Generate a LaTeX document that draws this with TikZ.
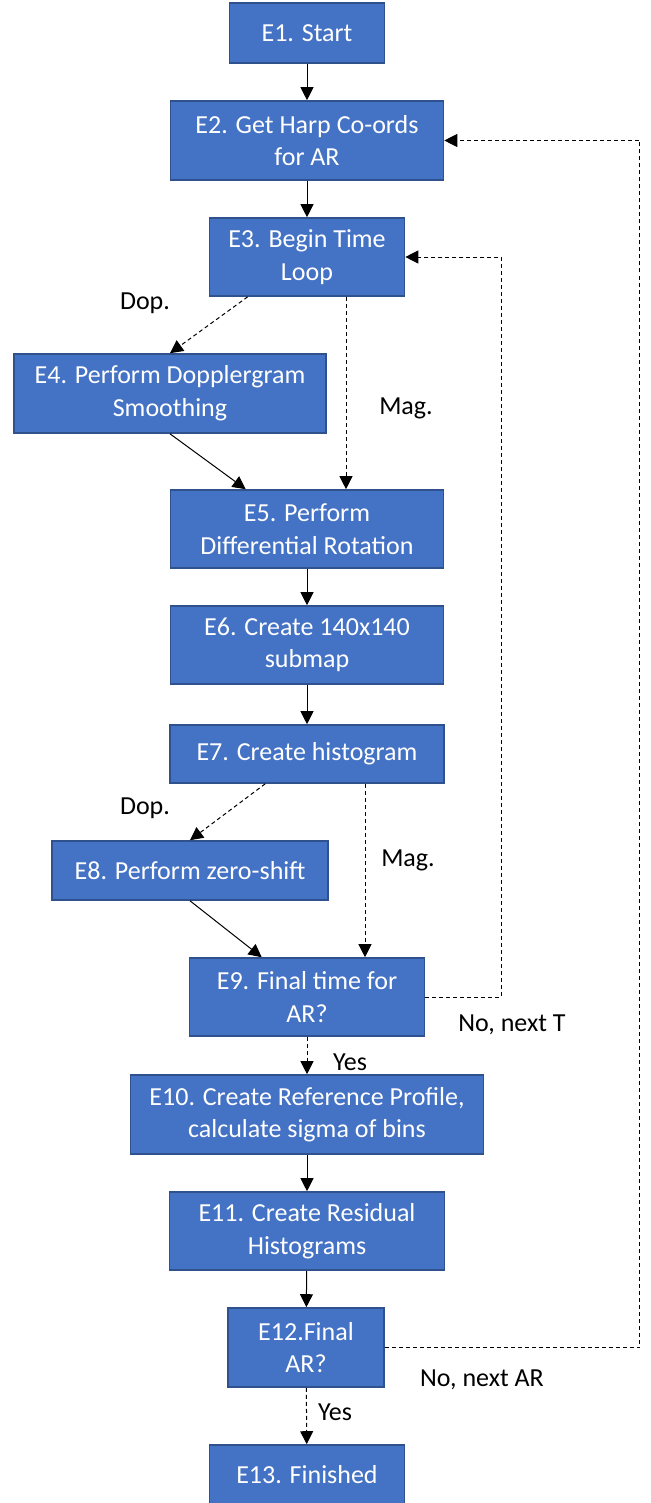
\documentclass[tikz,border=0pt]{standalone}
\usepackage{fontspec}
\setmainfont{Carlito}
\usetikzlibrary{arrows.meta}
\usetikzlibrary{calc}
\definecolor{boxblue}{HTML}{4472C4}
\definecolor{boxedge}{HTML}{2F528F}

\begin{document}
\begin{tikzpicture}[line join=miter, >={Triangle[length=6.5pt,width=6.5pt]}, x=0.5pt, y=-0.5pt, line width=0.5pt,
    blk/.style={rectangle, draw=boxedge, fill=boxblue, line width=0.8pt, text=white, align=center, inner sep=0pt, font=\fontsize{13}{16.3}\selectfont},
    lbl/.style={font=\fontsize{13}{16.3}\selectfont},
    dsh/.style={dash pattern=on 2pt off 1.5pt}]
                    \useasboundingbox (0,0) rectangle (651,1503);

                    \node [blk, minimum width=77.5pt, minimum height=30pt] (E1) at (307,33) {E1. Start};
                    \node [blk, minimum width=136.5pt, minimum height=39.5pt] (E2) at (307,140.5) {E2. Get Harp Co-ords\\for AR};
                    \node [blk, minimum width=97.5pt, minimum height=39pt] (E3) at (307,257) {E3. Begin Time\\Loop};
                    \node [blk, minimum width=156pt, minimum height=39.5pt] (E4) at (170,393.5) {E4. Perform Dopplergram\\Smoothing};
                    \node [blk, minimum width=136.5pt, minimum height=39pt] (E5) at (307,529) {E5. Perform\\Differential Rotation};
                    \node [blk, minimum width=136.5pt, minimum height=39pt] (E6) at (307,645) {E6. Create 140x140\\submap};
                    \node [blk, minimum width=137pt, minimum height=29pt] (E7) at (307,754) {E7. Create histogram};
                    \node [blk, minimum width=138pt, minimum height=29.5pt] (E8) at (190,870.5) {E8. Perform zero-shift};
                    \node [blk, minimum width=117.5pt, minimum height=39pt] (E9) at (307,997) {E9. Final time for\\AR?};
                    \node [blk, minimum width=176.5pt, minimum height=39.5pt] (E10) at (307,1114.5) {E10. Create Reference Profile,\\calculate sigma of bins};
                    \node [blk, minimum width=137.5pt, minimum height=39pt] (E11) at (307,1231) {E11. Create Residual\\Histograms};
                    \node [blk, minimum width=78pt, minimum height=39.5pt] (E12) at (306,1347.5) {E12.Final\\AR?};
                    \node [blk, minimum width=97.5pt, minimum height=30pt] (E13) at (307,1475) {E13. Finished};

                    % main column
                    \draw [->] (E1) -- (E2);
                    \draw [->] (E2) -- (E3);
                    \draw [->, dsh] ($(E3.south west)+(39,0)$) -- (E4.north);
                    \draw [->, dsh] ($(E3.south)+(39,0)$) -- ($(E5.north)+(39,0)$);
                    \draw [->] (E4.south) -- ($(E5.north west)+(76,0)$);
                    \draw [->] (E5) -- (E6);
                    \draw [->] (E6) -- (E7);
                    \draw [->, dsh] ($(E7.south west)+(96,0)$) -- (E8.north);
                    \draw [->, dsh] ($(E7.south)+(58,0)$) -- ($(E9.north)+(58,0)$);
                    \draw [->] (E8.south) -- ($(E9.north west)+(73,0)$);
                    \draw [->, dsh] (E9) -- (E10);
                    \draw [->] (E10) -- (E11);
                    \draw [->] (E11) -- (E12);
                    \draw [->, dsh] (E12) -- (E13);

                    % loops back
                    \draw [->, dsh] (E9.east) -- ++(76,0) |- (E3.east);
                    \draw [->, dsh] (E12.east) -- ++(255,0) |- (E2.east);

                    \node [lbl] (dop1) at (145,303) {Dop.};
                    \node [lbl] (mag1) at (406,408) {Mag.};
                    \node [lbl] (dop2) at (145,808) {Dop.};
                    \node [lbl] (mag2) at (408,860) {Mag.};
                    \node [lbl] (noT) at (512,1025) {No, next T};
                    \node [lbl] (yes1) at (350,1062) {Yes};
                    \node [lbl] (noAR) at (482,1380) {No, next AR};
                    \node [lbl] (yes2) at (335,1412) {Yes};
                \end{tikzpicture}
\end{document}
